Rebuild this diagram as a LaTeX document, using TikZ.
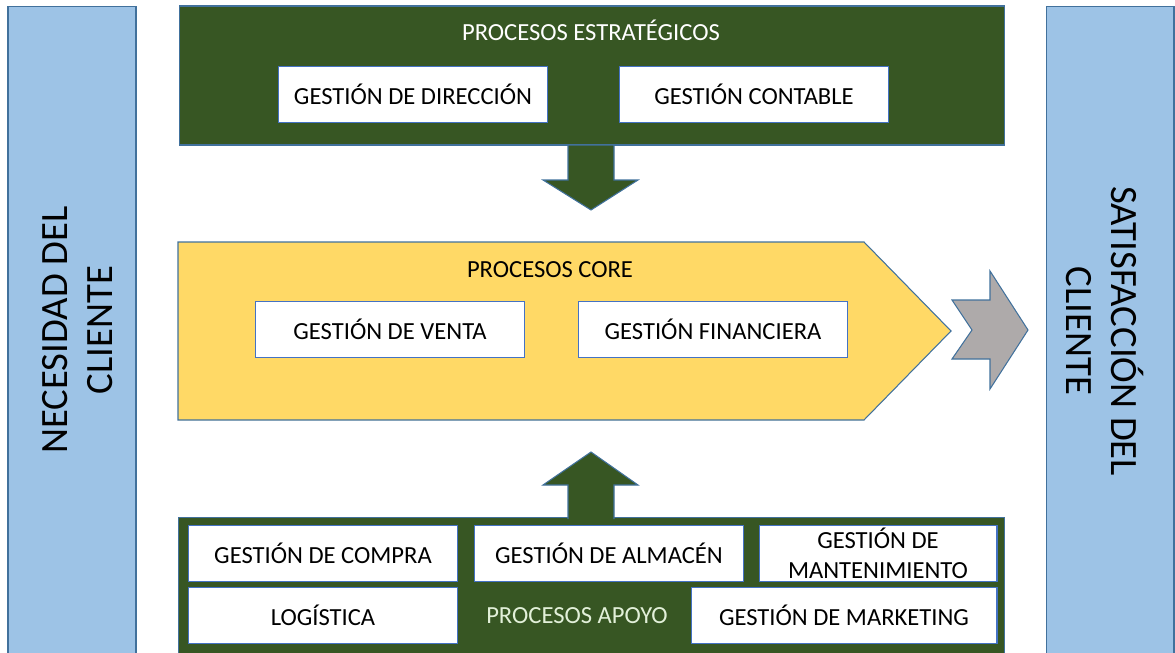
\documentclass[tikz,border=0pt]{standalone}
\usepackage{fontspec}
\setmainfont{Carlito}
\definecolor{darkgreen}{HTML}{375623}
\definecolor{coreyellow}{HTML}{FFD966}
\definecolor{sideblue}{HTML}{9DC3E6}
\definecolor{edgeblue}{HTML}{41719C}
\definecolor{boxedge}{HTML}{4472C4}
\definecolor{arrowgray}{HTML}{AEAAAA}
\definecolor{apoyotext}{HTML}{E2F0D9}

\begin{document}
\begin{tikzpicture}[x=0.02cm,y=-0.02cm,
    side_bar/.style={draw=edgeblue,fill=sideblue,line width=0.6pt,minimum width=2.56cm,minimum height=12.96cm,inner sep=0pt},
    side_text/.style={align=center,font=\fontsize{22}{25.6}\selectfont},
    green_block/.style={draw=edgeblue,fill=darkgreen,line width=0.6pt,inner sep=0pt},
    sub_box/.style={draw=boxedge,fill=white,line width=0.6pt,minimum width=5.38cm,minimum height=1.13cm,inner sep=0pt,align=center,font=\fontsize{14}{17}\selectfont},
    title_text/.style={text=white,font=\fontsize{14}{17}\selectfont}]

    \useasboundingbox (0,0) rectangle (1175,652);

    % client bars
    \node[side_bar] (need_bar) at (72,330) {};
    \node[side_text,rotate=90] (need) at (78,330) {NECESIDAD DEL\\CLIENTE};
    \node[side_bar] (sat_bar) at (1110,330) {};
    \node[side_text,rotate=-90] (sat) at (1105,331) {SATISFACCIÓN DEL\\CLIENTE};

    % strategic processes
    \node[green_block,minimum width=16.52cm,minimum height=2.78cm] (strat) at (592,75.5) {};
    \node[title_text] (strat_title) at (591,30) {PROCESOS ESTRATÉGICOS};
    \node[sub_box] (dir) at (413,94.5) {GESTIÓN DE DIRECCIÓN};
    \node[sub_box] (cont) at (754,94.5) {GESTIÓN CONTABLE};
    \draw[green_block] (568,145) -- (614,145) -- (614,180) -- (638,180) -- (591,210) -- (543,180) -- (568,180) -- cycle;

    % core processes
    \draw[draw=edgeblue,fill=coreyellow,line width=0.6pt] (178,242) -- (864,242) -- (951,331) -- (864,420) -- (178,420) -- cycle;
    \node (core_title) at (550,270) {\fontsize{14}{17}\selectfont PROCESOS CORE};
    \node[sub_box] (venta) at (390,329.5) {GESTIÓN DE VENTA};
    \node[sub_box] (fin) at (713,329.5) {GESTIÓN FINANCIERA};
    \draw[draw=edgeblue,fill=arrowgray,line width=0.6pt] (952,300) -- (990,300) -- (990,271) -- (1028,330) -- (990,389) -- (990,359) -- (952,359) -- (972,330) -- cycle;

    % support processes
    \node[green_block,minimum width=16.54cm,minimum height=2.74cm] (apoyo) at (591.5,586) {};
    \draw[green_block] (568,519) -- (568,485) -- (543,485) -- (591,452) -- (638,485) -- (614,485) -- (614,519);
    \node[sub_box] (compra) at (323,553.5) {GESTIÓN DE COMPRA};
    \node[sub_box] (almacen) at (609,553.5) {GESTIÓN DE ALMACÉN};
    \node[sub_box,minimum width=4.76cm] (mant) at (878,553.5) {GESTIÓN DE\\MANTENIMIENTO};
    \node[sub_box] (logis) at (323,615.5) {LOGÍSTICA};
    \node[sub_box,minimum width=6.12cm] (mark) at (844,615.5) {GESTIÓN DE MARKETING};
    \node[title_text,text=apoyotext] (apoyo_title) at (577,615.5) {PROCESOS APOYO};

\end{tikzpicture}
\end{document}
